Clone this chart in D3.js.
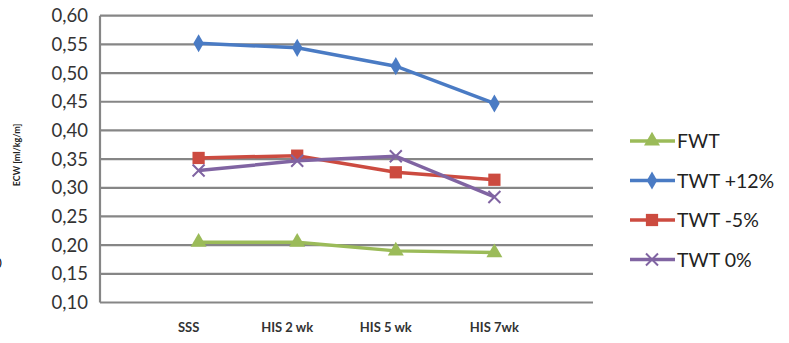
<!DOCTYPE html>
<html>
<head>
<meta charset="utf-8">
<script src="https://cdn.jsdelivr.net/npm/d3@7"></script>
<style>
  body { margin: 0; background: #fff; }
  text { font-family: Lato, "Open Sans", sans-serif; }
</style>
</head>
<body>
<div id="chart"></div>
<script>
const categories = ["SSS", "HIS 2 wk", "HIS 5 wk", "HIS 7wk"];
const yTicks = [0.10, 0.15, 0.20, 0.25, 0.30, 0.35, 0.40, 0.45, 0.50, 0.55, 0.60];
const seriesNames = ["FWT", "TWT +12%", "TWT -5%", "TWT 0%"];
const fwt = [0.205, 0.205, 0.190, 0.187];
const twtPlus12 = [0.552, 0.544, 0.512, 0.447];
const twtMinus5 = [0.352, 0.356, 0.327, 0.314];
const twtZero = [0.330, 0.347, 0.355, 0.284];

const colors = ["#9bbb59", "#4a7bc4", "#cc4b40", "#8064a2"];
const symbols = ["triangle", "diamond", "square", "cross"];
const series = [fwt, twtPlus12, twtMinus5, twtZero].map((v, i) => ({
    name: seriesNames[i], values: v, color: colors[i], symbol: symbols[i]
}));

const svg = d3.select("#chart").append("svg")
    .attr("width", 789)
    .attr("height", 343);

// x: points sit on slot boundaries, one empty slot on each side
const x = d3.scalePoint().domain(["_a"].concat(categories, ["_b"])).range([100, 593]);
const y = d3.scaleLinear().domain([0.10, 0.60]).range([302.5, 15.7]);

// gridlines
svg.append("g").selectAll("line").data(yTicks).join("line")
    .attr("x1", 100).attr("x2", 593)
    .attr("y1", d => y(d)).attr("y2", d => y(d))
    .attr("stroke", "#868686").attr("stroke-width", 2.2);

svg.append("line")
    .attr("x1", 100).attr("x2", 100)
    .attr("y1", y(0.60)).attr("y2", y(0.10))
    .attr("stroke", "#868686").attr("stroke-width", 2.2);

// y tick labels
svg.append("g").selectAll("text").data(yTicks).join("text")
    .attr("x", 88).attr("y", d => y(d) + 6.5)
    .attr("text-anchor", "end")
    .attr("fill", "#333")
    .style("font-size", "18.5px")
    .text(d => d3.format(".2f")(d).replace(".", ","));

// x labels
svg.append("g").selectAll("text").data(categories).join("text")
    .attr("x", (d, i) => x(d) - (i < 3 ? 10 : 0)).attr("y", 332)
    .attr("text-anchor", "middle")
    .attr("fill", "#333")
    .style("font-size", "13px")
    .style("font-weight", "bold")
    .text(d => d);

// y axis title
svg.append("text")
    .attr("transform", "translate(20,155) rotate(-90)")
    .attr("text-anchor", "middle")
    .attr("fill", "#222")
    .style("font-size", "9px")
    .style("font-weight", "bold")
    .text("ECW [ml/kg/m]");

svg.append("text")
    .attr("x", -1).attr("y", 266)
    .attr("fill", "#000")
    .style("font-size", "10px")
    .style("font-weight", "bold")
    .text(")");

const line = d3.line()
    .x((d, i) => x(categories[i]))
    .y(d => y(d));

function marker(sel, s, size) {
    if (s.symbol === "cross") {
        const r = size;
        sel.append("path")
            .attr("d", `M${-r},${-r}L${r},${r}M${-r},${r}L${r},${-r}`)
            .attr("stroke", s.color).attr("stroke-width", 2).attr("fill", "none");
    } else {
        const t = { triangle: d3.symbolTriangle, diamond: d3.symbolDiamond, square: d3.symbolSquare }[s.symbol];
        const area = s.symbol === "square" ? 150 : s.symbol === "diamond" ? 95 : 110;
        sel.append("path")
            .attr("d", d3.symbol().type(t).size(area)())
            .attr("fill", s.color);
    }
}

// draw in order so blue and purple sit on top like the reference
[0, 2, 3, 1].forEach(k => {
    const s = series[k];
    svg.append("path")
        .datum(s.values)
        .attr("fill", "none")
        .attr("stroke", s.color)
        .attr("stroke-width", 3.5)
        .attr("d", line);
    s.values.forEach((v, i) => {
        const g = svg.append("g").attr("transform", `translate(${x(categories[i])},${y(v)})`);
        marker(g, s, 6);
    });
});

// legend
const legend = svg.append("g");
series.forEach((s, i) => {
    const ly = 141 + i * 39.5;
    legend.append("line")
        .attr("x1", 630).attr("x2", 675)
        .attr("y1", ly).attr("y2", ly)
        .attr("stroke", s.color).attr("stroke-width", 3.5);
    const g = legend.append("g").attr("transform", `translate(652,${ly})`);
    marker(g, s, 6);
    legend.append("text")
        .attr("x", 677).attr("y", ly + 7)
        .attr("fill", "#222")
        .style("font-size", "19.5px")
        .text(s.name);
});
</script>
</body>
</html>
